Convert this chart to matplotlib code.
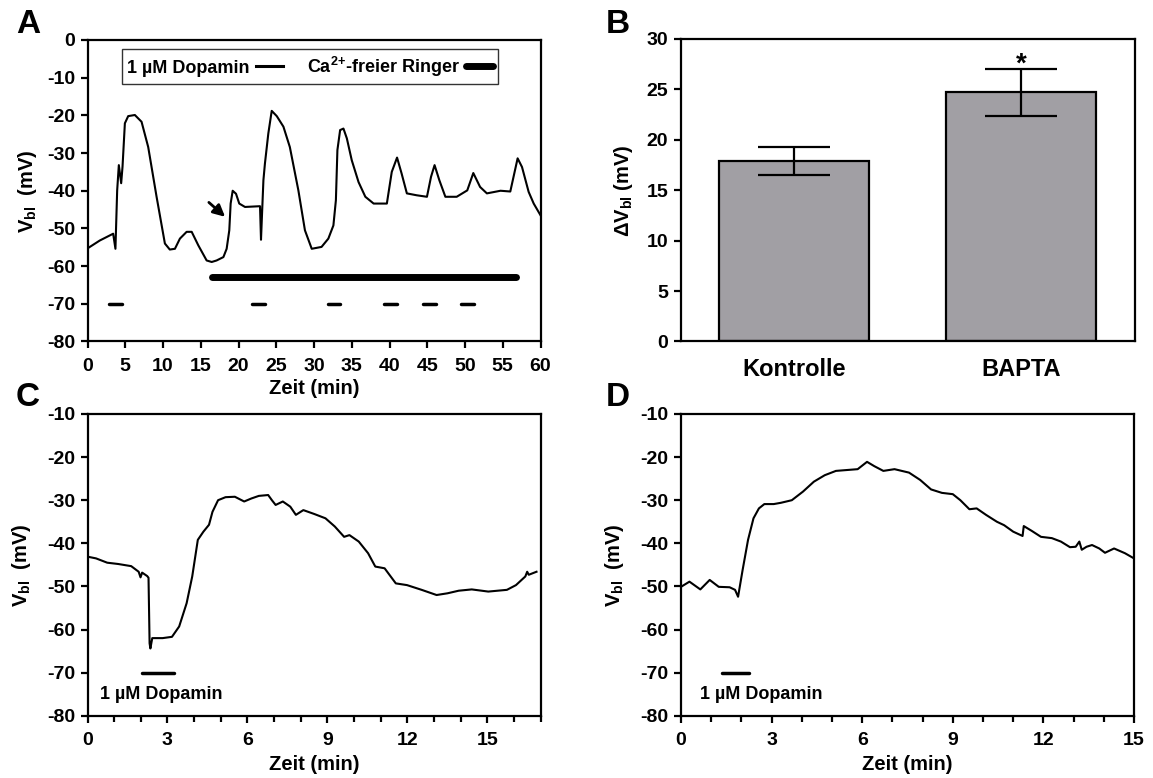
import matplotlib
matplotlib.use("Agg")
import matplotlib.pyplot as plt
from matplotlib.lines import Line2D
from matplotlib.ticker import MultipleLocator

plt.rcParams['font.family'] = ['Liberation Sans', 'DejaVu Sans']
plt.rcParams['font.weight'] = 'bold'
plt.rcParams['axes.unicode_minus'] = False
plt.rcParams['mathtext.fontset'] = 'custom'
plt.rcParams['mathtext.rm'] = 'Liberation Sans:bold'
plt.rcParams['mathtext.bf'] = 'Liberation Sans:bold'
plt.rcParams['mathtext.it'] = 'Liberation Sans:bold'
plt.rcParams['mathtext.default'] = 'bf'

# ---------------- Data ----------------
# Panel A trace (time in min, V_bl in mV)
a_t = [0, 1.63, 3.4, 3.7, 3.93, 4.15, 4.46, 4.64, 4.95, 5.39, 6.27, 7.16, 8.04, 9.15, 10.25, 10.9,
       11.58, 12.24, 13.13, 13.8, 14.68, 15.78, 16.45, 17.1, 18.0, 18.43, 18.78, 18.96, 19.23, 19.67,
       20.1, 20.86, 22.85, 22.98, 23.1, 23.3, 23.5, 23.95, 24.4, 25.07, 25.95, 26.8, 27.93, 28.8,
       29.7, 31.0, 31.9, 32.57, 32.9, 33.1, 33.46, 33.9, 34.35, 35.0, 35.9, 36.8, 37.9, 39.65,
       40.3, 41.0, 41.6, 42.3, 43.6, 44.96, 45.5, 45.97, 46.6, 47.4, 48.9, 50.3, 51.1, 52.0, 52.9,
       54.7, 56.0, 56.97, 57.55, 58.43, 59.1, 60.0]
a_v = [-55.3, -53.2, -51.4, -55.4, -39.9, -33.2, -38.0, -33.6, -22.1, -20.2, -19.9, -21.7, -28.4,
       -41.6, -54.0, -55.6, -55.4, -52.7, -50.9, -50.9, -54.5, -58.5, -58.9, -58.5, -57.6, -55.4,
       -50.5, -43.4, -40.0, -40.8, -43.4, -44.3, -44.1, -53.0, -47.0, -37.2, -32.8, -24.8, -18.8,
       -20.2, -23.0, -28.4, -39.9, -50.5, -55.4, -54.9, -52.7, -49.2, -42.5, -29.2, -23.9, -23.5,
       -26.1, -31.9, -37.7, -41.6, -43.4, -43.4, -35.0, -31.2, -35.4, -40.7, -41.2, -41.6, -36.3,
       -33.2, -37.2, -41.6, -41.6, -39.9, -35.3, -39.0, -40.7, -40.0, -40.2, -31.4, -33.7, -40.3,
       -43.4, -46.5]
a_dopa_start = [2.85, 21.8, 31.8, 39.25, 44.4, 49.5]
a_dopa_end = [4.55, 23.55, 33.5, 40.95, 46.1, 51.2]
a_dopa_level = -70
a_ca_start, a_ca_end, a_ca_level = 16.5, 56.8, -63

# Panel B
b_groups = ['Kontrolle', 'BAPTA']
b_means = [17.9, 24.7]
b_sem = [1.35, 2.3]

# Panel C trace
c_t = [0, 0.32, 0.74, 1.15, 1.64, 1.92, 1.99, 2.05, 2.24, 2.29, 2.33, 2.36, 2.43, 2.54, 2.82, 3.17,
       3.44, 3.72, 3.93, 4.14, 4.35, 4.56, 4.69, 4.9, 5.18, 5.53, 5.88, 6.15, 6.43, 6.78, 6.92,
       7.06, 7.33, 7.61, 7.82, 8.1, 8.51, 8.93, 9.28, 9.63, 9.83, 10.18, 10.53, 10.8, 11.15, 11.57,
       11.99, 12.54, 13.1, 13.51, 13.93, 14.42, 15.04, 15.74, 16.08, 16.43, 16.5, 16.56, 16.85]
c_v = [-43.1, -43.5, -44.5, -44.8, -45.3, -46.6, -47.9, -46.8, -47.6, -48.0, -63.2, -64.4, -62.0,
       -62.0, -62.0, -61.7, -59.3, -53.9, -47.7, -39.2, -37.3, -35.7, -32.7, -30.0, -29.3, -29.2,
       -30.3, -29.6, -29.0, -28.8, -30.0, -31.1, -30.3, -31.5, -33.4, -32.3, -33.2, -34.2, -36.1,
       -38.5, -38.1, -39.6, -42.3, -45.4, -45.8, -49.3, -49.7, -50.8, -52.0, -51.6, -51.0, -50.7,
       -51.2, -50.8, -49.7, -47.7, -46.6, -47.3, -46.6]
c_dopa = (2.06, 3.26, -70)

# Panel D trace
d_t = [0, 0.28, 0.64, 0.95, 1.25, 1.61, 1.79, 1.89, 2.04, 2.22, 2.4, 2.58, 2.76, 3.07, 3.31, 3.67,
       4.04, 4.4, 4.76, 5.13, 5.49, 5.85, 6.16, 6.4, 6.7, 7.07, 7.55, 7.92, 8.28, 8.64, 9.0, 9.25,
       9.55, 9.79, 10.1, 10.46, 10.7, 11.0, 11.31, 11.35, 11.61, 11.92, 12.28, 12.58, 12.88, 13.07,
       13.19, 13.27, 13.43, 13.61, 13.85, 14.04, 14.34, 14.7, 15.0]
d_v = [-50.1, -48.9, -50.7, -48.5, -50.1, -50.2, -50.8, -52.4, -46.2, -39.2, -34.2, -31.9, -30.9,
       -30.9, -30.6, -30.0, -28.0, -25.7, -24.2, -23.2, -23.0, -22.8, -21.1, -22.1, -23.2, -22.8,
       -23.6, -25.3, -27.5, -28.3, -28.6, -30.0, -32.1, -31.9, -33.4, -35.0, -35.8, -37.3, -38.3,
       -36.0, -37.1, -38.5, -38.8, -39.6, -40.9, -40.8, -39.6, -41.5, -40.8, -40.4, -41.2, -42.2,
       -41.2, -42.3, -43.5]
d_dopa = (1.37, 2.24, -70)

# ---------------- Figure ----------------
W, H = 1153, 778
fig = plt.figure(figsize=(W / 100, H / 100), dpi=100)


def box(l, t, r, b):
    return [l / W, 1 - b / H, (r - l) / W, (b - t) / H]


axA = fig.add_axes(box(87.5, 40, 540.5, 341.5))
axB = fig.add_axes(box(680.5, 39, 1134.5, 341.5))
axC = fig.add_axes(box(87.5, 414, 540.5, 715.7))
axD = fig.add_axes(box(681, 414, 1134, 715.7))

TICK_FS = 14
LAB_FS = 14.5
LW = 1.5
SPW = 1.6

for ax in (axA, axB, axC, axD):
    for s in ax.spines.values():
        s.set_linewidth(SPW)
    ax.tick_params(direction='out', width=SPW, length=5, labelsize=TICK_FS)
    ax.tick_params(axis='x', pad=7)
    ax.tick_params(axis='y', pad=4)

# Panel A
axA.plot(a_t, a_v, color='black', lw=LW)
for s, e in zip(a_dopa_start, a_dopa_end):
    axA.plot([s, e], [a_dopa_level, a_dopa_level], color='black', lw=2.5, solid_capstyle='round')
axA.plot([a_ca_start, a_ca_end], [a_ca_level, a_ca_level], color='black', lw=5, solid_capstyle='round')
axA.annotate('', xy=(18.5, -47.4), xytext=(15.8, -42.6),
             arrowprops=dict(arrowstyle='-|>,head_length=0.7,head_width=0.35', color='black', lw=2))
axA.set_xlim(0, 60)
axA.set_ylim(-80, 0)
axA.xaxis.set_major_locator(MultipleLocator(5))
axA.yaxis.set_major_locator(MultipleLocator(10))
axA.set_xlabel('Zeit (min)', fontsize=LAB_FS, fontweight='bold', labelpad=3)
axA.set_ylabel(r'$V_{bl}$  (mV)', fontsize=LAB_FS, fontweight='bold', labelpad=6)
handles = [Line2D([], [], color='black', lw=2.2),
           Line2D([], [], color='black', lw=5, solid_capstyle='round')]
leg = axA.legend(handles, ['1 µM Dopamin', r'Ca$^{2{+}}$-freier Ringer'], loc='upper left',
                 bbox_to_anchor=(0.076, 0.97), ncol=2, markerfirst=False, frameon=True,
                 fancybox=False, edgecolor='black', fontsize=13, handlelength=1.5,
                 handletextpad=0.35, columnspacing=1.3, borderpad=0.3, borderaxespad=0)
leg.get_frame().set_linewidth(1.0)
for t in leg.get_texts():
    t.set_fontweight('bold')

# Panel B
xpos = list(range(len(b_groups)))
axB.bar(xpos, b_means, width=0.665, color='#a19fa4', edgecolor='black', linewidth=SPW, zorder=2)
axB.errorbar(xpos, b_means, yerr=b_sem, fmt='none', ecolor='black', elinewidth=SPW,
             capsize=26, capthick=SPW, zorder=3)
axB.text(1, 27.5, '*', ha='center', va='center', fontsize=20, fontweight='bold')
axB.set_xlim(-0.5, 1.5)
axB.set_ylim(0, 30)
axB.set_xticks(xpos)
axB.set_xticklabels(b_groups, fontsize=17, fontweight='bold')
axB.tick_params(axis='x', length=0, pad=12)
axB.yaxis.set_major_locator(MultipleLocator(5))
axB.set_ylabel(r'$\mathrm{\Delta}$$V_{bl}$ (mV)', fontsize=LAB_FS, fontweight='bold', labelpad=8)

# Panels C and D
for ax, t, v, dopa, xmax, lp in ((axC, c_t, c_v, c_dopa, 17, 10), (axD, d_t, d_v, d_dopa, 15, 10)):
    ax.plot(t, v, color='black', lw=LW)
    ax.plot([dopa[0], dopa[1]], [dopa[2], dopa[2]], color='black', lw=2.5, solid_capstyle='round')
    ax.set_xlim(0, xmax)
    ax.set_ylim(-80, -10)
    ax.xaxis.set_major_locator(MultipleLocator(3))
    ax.xaxis.set_minor_locator(MultipleLocator(1))
    ax.tick_params(which='minor', direction='out', width=SPW, length=4)
    ax.yaxis.set_major_locator(MultipleLocator(10))
    ax.set_xlabel('Zeit (min)', fontsize=LAB_FS, fontweight='bold', labelpad=4)
    ax.set_ylabel(r'$V_{bl}$  (mV)', fontsize=LAB_FS, fontweight='bold', labelpad=lp)

axC.text(0.46, -75, '1 µM Dopamin', fontsize=13, fontweight='bold', va='center', ha='left')
axD.text(0.64, -75, '1 µM Dopamin', fontsize=13, fontweight='bold', va='center', ha='left')

for ax in (axA, axB, axC, axD):
    for t in ax.get_xticklabels() + ax.get_yticklabels():
        t.set_fontweight('bold')

# Panel letters
for letter, x, y in (('A', 16, 9), ('B', 606, 9), ('C', 16, 382), ('D', 606, 382)):
    fig.text(x / W, 1 - y / H, letter, fontsize=24, fontweight='bold', ha='left', va='top')

fig.savefig('out.png', dpi=100)
